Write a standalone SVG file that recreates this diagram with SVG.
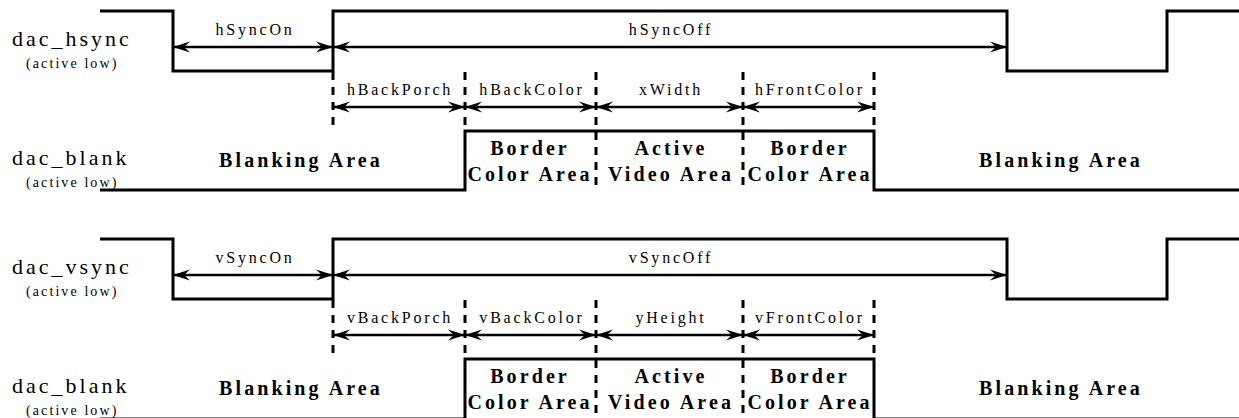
<svg xmlns="http://www.w3.org/2000/svg" width="1239" height="418" viewBox="0 0 1239 418">
  <style>
    .wave { fill: none; stroke: #000; stroke-width: 3; stroke-linejoin: miter; }
    .dash { fill: none; stroke: #000; stroke-width: 3; stroke-dasharray: 8 7; }
    .dim { fill: none; stroke: #000; stroke-width: 2.5; marker-start: url(#ah); marker-end: url(#ah); }
    text { font-family: 'Liberation Serif', 'DejaVu Serif', serif; fill: #000; }
    .sig { font-size: 22px; letter-spacing: 3px; }
    .note { font-size: 14px; letter-spacing: 2.1px; }
    .lbl { font-size: 16px; letter-spacing: 2.8px; text-anchor: middle; }
    .area { font-size: 20px; font-weight: bold; letter-spacing: 3.1px; text-anchor: middle; }
  </style>
  <defs>
    <marker id="ah" markerUnits="userSpaceOnUse" viewBox="-18 -6 19 12" refX="0" refY="0" markerWidth="19" markerHeight="12" orient="auto-start-reverse">
      <path d="M0,0 L-17,-5.5 L-11,0 L-17,5.5 Z" fill="#000"/>
    </marker>
  </defs>

  <rect width="1239" height="418" fill="#fff"/>

  <!-- horizontal timing -->
  <g id="hsync">
    <path class="wave" d="M100,11 H173 V71 H333 V11 H1007 V71 H1167 V11 H1239"/>
    <text class="sig" x="12" y="46">dac_hsync</text>
    <text class="note" x="26" y="68">(active low)</text>
  </g>
  <g id="hblank">
    <path class="wave" d="M100,190 H465 V131 H874 V190 H1239"/>
    <text class="sig" x="12" y="165">dac_blank</text>
    <text class="note" x="26" y="187">(active low)</text>
    <text class="area" x="301" y="167">Blanking Area</text>
    <text class="area" x="1061" y="167">Blanking Area</text>
    <text class="area" x="530" y="155">Border</text>
    <text class="area" x="530" y="181">Color Area</text>
    <text class="area" x="671" y="155">Active</text>
    <text class="area" x="671" y="181">Video Area</text>
    <text class="area" x="810" y="155">Border</text>
    <text class="area" x="810" y="181">Color Area</text>
  </g>
  <g id="hlabels">
    <text class="lbl" x="255" y="35">hSyncOn</text>
    <text class="lbl" x="671" y="35">hSyncOff</text>
    <text class="lbl" x="400" y="95">hBackPorch</text>
    <text class="lbl" x="532" y="95">hBackColor</text>
    <text class="lbl" x="671" y="95">xWidth</text>
    <text class="lbl" x="810" y="95">hFrontColor</text>
  </g>

  <!-- vertical timing -->
  <g id="vsync">
    <path class="wave" d="M100,239 H173 V299 H333 V239 H1007 V299 H1167 V239 H1239"/>
    <text class="sig" x="12" y="274">dac_vsync</text>
    <text class="note" x="26" y="296">(active low)</text>
  </g>
  <g id="vblank">
    <path class="wave" d="M100,419 H465 V359 H874 V419 H1239"/>
    <text class="sig" x="12" y="393">dac_blank</text>
    <text class="note" x="26" y="415">(active low)</text>
    <text class="area" x="301" y="395">Blanking Area</text>
    <text class="area" x="1061" y="395">Blanking Area</text>
    <text class="area" x="530" y="383">Border</text>
    <text class="area" x="530" y="409">Color Area</text>
    <text class="area" x="671" y="383">Active</text>
    <text class="area" x="671" y="409">Video Area</text>
    <text class="area" x="810" y="383">Border</text>
    <text class="area" x="810" y="409">Color Area</text>
  </g>
  <g id="vlabels">
    <text class="lbl" x="255" y="263">vSyncOn</text>
    <text class="lbl" x="671" y="263">vSyncOff</text>
    <text class="lbl" x="400" y="323">vBackPorch</text>
    <text class="lbl" x="532" y="323">vBackColor</text>
    <text class="lbl" x="671" y="323">yHeight</text>
    <text class="lbl" x="810" y="323">vFrontColor</text>
  </g>

  <g id="connectors">
    <!-- boundary guides -->
    <path class="dash" d="M333,72 V130 M465,72 V130 M596,72 V190 M743,72 V190 M874,72 V130"/>
    <path class="dash" d="M333,300 V358 M465,300 V358 M596,300 V418 M743,300 V418 M874,300 V358"/>
    <!-- interval arrows -->
    <path class="dim" d="M173,47 H333"/>
    <path class="dim" d="M333,47 H1007"/>
    <path class="dim" d="M333,107 H465"/>
    <path class="dim" d="M465,107 H596"/>
    <path class="dim" d="M596,107 H743"/>
    <path class="dim" d="M743,107 H874"/>
    <path class="dim" d="M173,275 H333"/>
    <path class="dim" d="M333,275 H1007"/>
    <path class="dim" d="M333,335 H465"/>
    <path class="dim" d="M465,335 H596"/>
    <path class="dim" d="M596,335 H743"/>
    <path class="dim" d="M743,335 H874"/>
  </g>
</svg>
